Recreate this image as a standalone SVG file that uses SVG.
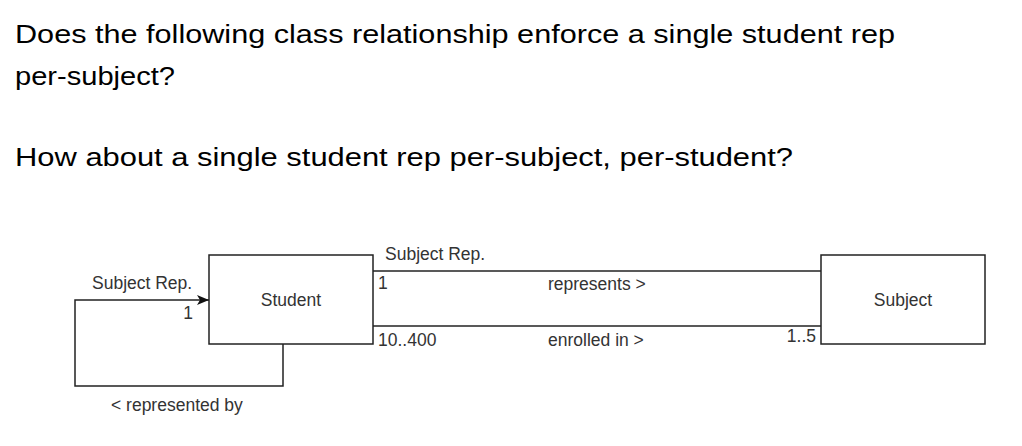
<svg xmlns="http://www.w3.org/2000/svg" width="1022" height="446" viewBox="0 0 1022 446">
  <style>
    .title { font-family: "Liberation Sans", Arial, sans-serif; font-size: 26.5px; fill: #000; }
    .lbl { font-family: "Liberation Sans", Arial, sans-serif; font-size: 17.5px; fill: #333; }
    .box { fill: #fff; stroke: #222; stroke-width: 1.5; }
    .edge { fill: none; stroke: #222; stroke-width: 1.5; }
  </style>
  <defs>
    <marker id="arrow" markerWidth="14" markerHeight="12" refX="12" refY="6" orient="auto" markerUnits="userSpaceOnUse">
      <path d="M0,1 L12,6 L0,11 L3,6 Z" fill="#111"/>
    </marker>
  </defs>
  <rect width="1022" height="446" fill="#fff"/>

  <g id="title">
    <text class="title" x="15" y="43" textLength="880" lengthAdjust="spacingAndGlyphs">Does the following class relationship enforce a single student rep</text>
    <text class="title" x="15" y="85" textLength="160" lengthAdjust="spacingAndGlyphs">per-subject?</text>
    <text class="title" x="15" y="166" textLength="778" lengthAdjust="spacingAndGlyphs">How about a single student rep per-subject, per-student?</text>
  </g>

  <g id="connectors">
    <path class="edge" d="M373,271 H821"/>
    <path class="edge" d="M373,326 H821"/>
    <path class="edge" d="M283,344 V386 H75 V300 H209" marker-end="url(#arrow)"/>
    <text class="lbl" x="92" y="289">Subject Rep.</text>
    <text class="lbl" x="193" y="319" text-anchor="end">1</text>
    <text class="lbl" x="111" y="411">&lt; represented by</text>
    <text class="lbl" x="385" y="260">Subject Rep.</text>
    <text class="lbl" x="378" y="289">1</text>
    <text class="lbl" x="548" y="290">represents &gt;</text>
    <text class="lbl" x="378" y="346">10..400</text>
    <text class="lbl" x="548" y="346">enrolled in &gt;</text>
    <text class="lbl" x="816" y="342" text-anchor="end">1..5</text>
  </g>

  <g id="student">
    <rect class="box" x="209" y="255" width="164" height="89"/>
    <text class="lbl" x="291" y="306" text-anchor="middle">Student</text>
  </g>

  <g id="subject">
    <rect class="box" x="821" y="255" width="164" height="89"/>
    <text class="lbl" x="903" y="306" text-anchor="middle">Subject</text>
  </g>
</svg>
